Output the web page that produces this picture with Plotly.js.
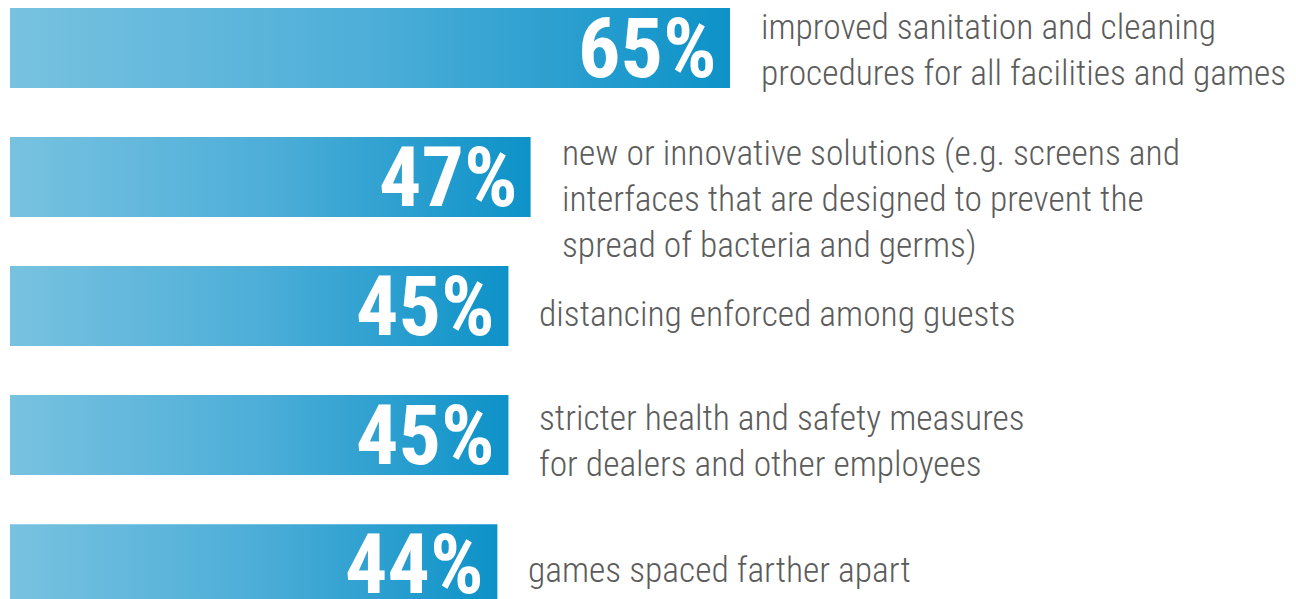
<!DOCTYPE html>
<html>
<head>
<meta charset="utf-8">
<script src="https://cdn.plot.ly/plotly-3.0.1.min.js"></script>
<style>html,body{margin:0;padding:0;background:#fff;}#chart{width:1296px;height:599px;}</style>
</head>
<body>
<div id="chart"></div>
<script>
const categories = [
  "improved sanitation and cleaning<br>procedures for all facilities and games",
  "new or innovative solutions (e.g. screens and<br>interfaces that are designed to prevent the<br>spread of bacteria and germs)",
  "distancing enforced among guests",
  "stricter health and safety measures<br>for dealers and other employees",
  "games spaced farther apart"
];
const values = [65, 47, 45, 45, 44];
const valueLabels = ["65%", "47%", "45%", "45%", "44%"];

const halfH = 0.31;
const traces = values.map((v, i) => ({
  type: 'scatter',
  mode: 'none',
  x: [0, v, v, 0, 0],
  y: [i - halfH, i - halfH, i + halfH, i + halfH, i - halfH],
  fill: 'toself',
  fillgradient: {
    type: 'horizontal',
    colorscale: [[0, '#78c2e0'], [0.5, '#4daed8'], [1, '#0d92c8']]
  },
  hoverinfo: 'skip',
  showlegend: false
}));

const textYShift = [-2, -22, -8, -6, -6];
const annotations = [];
values.forEach((v, i) => {
  annotations.push({
    x: v, y: i, xref: 'x', yref: 'y',
    text: valueLabels[i], showarrow: false,
    xanchor: 'right', yanchor: 'middle', xshift: -11, yshift: 0,
    font: {family: '"Roboto Condensed", "DejaVu Sans Condensed", Arial', size: 84, color: '#ffffff', weight: 700}
  });
  annotations.push({
    x: v, y: i, xref: 'x', yref: 'y',
    text: categories[i], showarrow: false,
    xanchor: 'left', yanchor: 'middle', align: 'left', xshift: 29, yshift: textYShift[i],
    font: {family: '"Roboto Condensed", "DejaVu Sans Condensed", Arial', size: 35.5, color: '#5c5c5c', weight: 300}
  });
});

const layout = {
  width: 1296, height: 599,
  margin: {l: 10, r: 0, t: 0, b: 0},
  paper_bgcolor: '#ffffff', plot_bgcolor: '#ffffff',
  xaxis: {range: [0, 116.1], visible: false, fixedrange: true},
  yaxis: {range: [4.27, -0.372], visible: false, fixedrange: true},
  annotations: annotations,
  showlegend: false
};

Plotly.newPlot('chart', traces, layout, {displayModeBar: false, staticPlot: true});
</script>
</body>
</html>
